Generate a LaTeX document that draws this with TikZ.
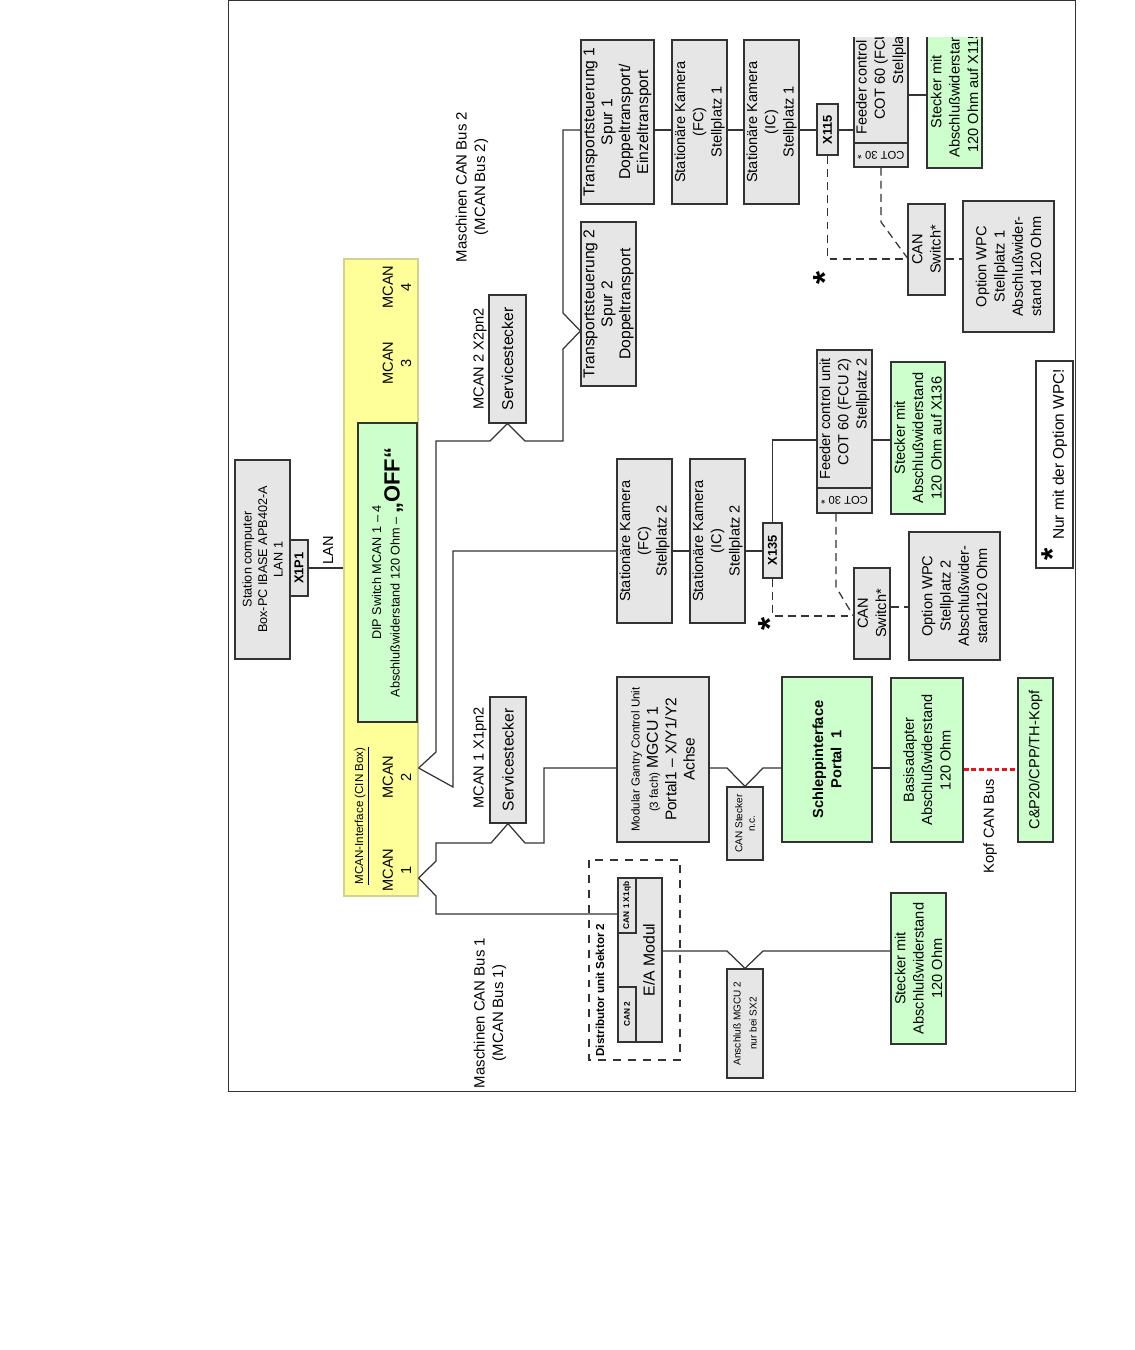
\documentclass[tikz,border=0pt]{standalone}
\usepackage{fontspec}
\setmainfont{Liberation Sans}
\usepackage{tikz}
\definecolor{cBox}{HTML}{E6E6E6}
\definecolor{cGreen}{HTML}{CCFFCC}
\definecolor{cYellow}{HTML}{FFFF99}
\definecolor{cYelEdge}{HTML}{D2D28C}
\definecolor{cInk}{HTML}{333333}
\definecolor{cRed}{HTML}{E8141B}
\newcommand\fnMain{\fontsize{8.3}{10.4}\selectfont}
\newcommand\fnBig{\fontsize{8.9}{10.2}\selectfont}
\newcommand\fnPc{\fontsize{7.2}{8.8}\selectfont}
\newcommand\fnDip{\fontsize{7.2}{9}\selectfont}
\newcommand\fnSmall{\fontsize{6.6}{8.2}\selectfont}
\newcommand\fnTiny{\fontsize{5.7}{7.2}\selectfont}
\tikzset{
  dim/.style 2 args={minimum height=#1*0.2mm, minimum width=#2*0.2mm},
  unit/.style={rectangle, draw=cInk, line width=0.7pt, fill=cBox, rotate=90,
    align=center, font=\fnMain, inner sep=1pt},
  okbox/.style={unit, fill=cGreen},
  port/.style={unit, font=\fontsize{7.3}{8}\selectfont\bfseries, inner sep=0.5pt},
  plug/.style={unit, font=\fontsize{4.7}{5}\selectfont\bfseries, inner sep=0.5pt},
  cot/.style={rectangle, draw=cInk, line width=0.7pt, fill=cBox, rotate=180,
    font=\fontsize{6.4}{7}\selectfont, inner sep=0.5pt},
  tag/.style={rotate=90, align=center, font=\fnMain, inner sep=1pt},
  asterisk/.style={rotate=90, font=\fontsize{19}{19}\selectfont\bfseries, inner sep=0pt},
  wire/.style={draw=cInk, line width=0.7pt},
  optwire/.style={wire, dash pattern=on 4.5pt off 3pt},
  headbus/.style={draw=cRed, line width=1.7pt, dash pattern=on 2.8pt off 1.6pt},
}

\begin{document}
\begin{tikzpicture}[x=0.2mm, y=-0.2mm]
\useasboundingbox (0,0) rectangle (1134,1350);
\draw[line width=0.6pt, draw=cInk] (228.5,0.5) rectangle (1075.5,1091.5);

% station computer and CIN box
\node[unit, dim={55}{199}, font=\fnPc] (pc) at (262.5,559.5) {Station computer\\ Box-PC IBASE APB402-A\\ LAN 1};
\node[port, dim={18}{56}] (x1p1) at (299,568) {X1P1};
\node[unit, dim={74}{637}, fill=cYellow, draw=cYelEdge] (cin) at (381,577.5) {};
\node[okbox, dim={59}{299}, font=\fnDip] (dip) at (387.5,572.5) {DIP Switch MCAN 1 – 4\\[1.5pt] Abschlußwiderstand 120 Ohm – {\fontsize{12.5}{13}\selectfont\bfseries „OFF“}};
\node[tag, font=\fnSmall] (cinlbl) at (362,816) {\underline{MCAN-Interface (CIN Box)}};
\node[tag] (mc1) at (397,870) {MCAN\\ 1};
\node[tag] (mc2) at (397,777) {MCAN\\ 2};
\node[tag] (mc3) at (397,363) {MCAN\\ 3};
\node[tag] (mc4) at (397,287) {MCAN\\ 4};
\node[tag] (lan) at (328,550) {LAN};
\draw[wire] (x1p1.south) -- (x1p1.south -| cin.north);

% service plugs and bus labels
\node[unit, dim={36}{126}, font=\fnBig] (ss1) at (508,760) {Servicestecker};
\node[tag] (ss1lbl) at (480,758) {MCAN 1 X1pn2};
\node[unit, dim={37}{128}, font=\fnBig] (ss2) at (507.5,359) {Servicestecker};
\node[tag] (ss2lbl) at (480,359) {MCAN 2 X2pn2};
\node[tag, font=\fontsize{8.5}{10.4}\selectfont] (bus2) at (472,187) {Maschinen CAN Bus 2\\ (MCAN Bus 2)};
\node[tag, font=\fontsize{8.5}{10.4}\selectfont] (bus1) at (490,1013) {Maschinen CAN Bus 1\\ (MCAN Bus 1)};

% Stellplatz 1
\node[unit, dim={73}{164}, font=\fnBig] (ts1) at (617.5,122) {Transportsteuerung 1\\ Spur 1\\ Doppeltransport/\\ Einzeltransport};
\node[unit, dim={55}{164}, font=\fnBig] (ts2) at (608.5,304) {Transportsteuerung 2\\ Spur 2\\ Doppeltransport};
\node[unit, dim={55}{164}] (kfc1) at (699.5,122) {Stationäre Kamera\\ (FC)\\ Stellplatz 1};
\node[unit, dim={55}{164}] (kic1) at (771.5,122) {Stationäre Kamera\\ (IC)\\ Stellplatz 1};
\node[port, dim={21}{51}] (x115) at (827.5,129.5) {X115};
\begin{scope}
  \clip (228,38) rectangle (1076,1092);
  \node[unit, dim={54}{139}, align=right] (fcu1) at (881,73.5) {Feeder control unit\\ COT 60 (FCU 1)\\ Stellplatz 1};
  \node[okbox, dim={55}{152}] (stk1) at (954.5,92) {Stecker mit\\ Abschlußwiderstand\\ 120 Ohm auf X115};
\end{scope}
\node[cot, minimum width=54*0.2mm, minimum height=24*0.2mm] (cot1) at (881,155) {COT 30 *};
\node[unit, dim={37}{91}] (canA) at (926.5,249.5) {CAN\\ Switch*};
\node[unit, dim={91}{131}] (wpc1) at (1008.5,266.5) {Option WPC\\ Stellplatz 1\\ Abschlußwider-\\ stand 120 Ohm};
\node[asterisk] (st1) at (825,278) {*};

% Stellplatz 2
\node[unit, dim={55}{164}] (kfc2) at (644.5,541) {Stationäre Kamera\\ (FC)\\ Stellplatz 2};
\node[unit, dim={55}{164}] (kic2) at (717.5,541) {Stationäre Kamera\\ (IC)\\ Stellplatz 2};
\node[port, dim={19}{55}] (x135) at (772.5,550.5) {X135};
\node[unit, dim={55}{138}, align=right] (fcu2) at (844.5,419) {Feeder control unit\\ COT 60 (FCU 2)\\ Stellplatz 2};
\node[cot, minimum width=55*0.2mm, minimum height=25*0.2mm] (cot2) at (844.5,500.5) {COT 30 *};
\node[okbox, dim={54}{152}] (stk2) at (918,438) {Stecker mit\\ Abschlußwiderstand\\ 120 Ohm auf X136};
\node[unit, dim={36}{91}] (canB) at (872,613.5) {CAN\\ Switch*};
\node[unit, dim={91}{128}] (wpc2) at (954.5,596) {Option WPC\\ Stellplatz 2\\ Abschlußwider-\\ stand120 Ohm};
\node[asterisk] (st2) at (770,624) {*};
\node[unit, dim={37}{207}, fill=white, font=\fontsize{8.8}{10}\selectfont] (note) at (1054.5,464.5) {{\fontsize{18}{18}\selectfont\bfseries *}\enspace Nur mit der Option WPC!};

% gantry and head
\node[unit, dim={92}{165}] (mgcu) at (663,759.5) {{\fnSmall Modular Gantry Control Unit}\\ {\fnSmall (3 fach)} {\fontsize{9}{10}\selectfont MGCU 1}\\ {\fontsize{8.8}{10}\selectfont Portal1 – X/Y1/Y2}\\ {\fontsize{8.8}{10}\selectfont Achse}};
\node[unit, dim={36}{73}, font=\fnTiny] (cst) at (745,823.5) {CAN Stecker\\ n.c.};
\node[okbox, dim={90}{165}, font=\fnMain\bfseries] (schl) at (827,759.5) {Schleppinterface\\ Portal\ \ 1};
\node[okbox, dim={72}{164}] (basis) at (927,760) {Basisadapter\\ Abschlußwiderstand\\ 120 Ohm};
\node[okbox, dim={35}{164}] (kopf) at (1035.5,760) {C\&P20/CPP/TH-Kopf};
\node[tag] (kopflbl) at (990,826) {Kopf CAN Bus};

% distributor
\node[unit, dim={44}{164}] (ea) at (640,960) {};
\node[tag, font=\fontsize{9}{10}\selectfont] (eatxt) at (649,960) {E/A Modul};
\node[plug, dim={18}{55}] (can1) at (627,905.5) {CAN 1 X1qb};
\node[plug, dim={18}{55}] (can2) at (627,1014.5) {CAN 2};
\node[rectangle, draw=cInk, line width=0.7pt, dash pattern=on 4.5pt off 4pt, rotate=90, dim={91}{200}] (dist) at (634.5,960) {};
\node[tag, font=\fnSmall\bfseries] (distlbl) at (600,990) {Distributor unit Sektor 2};
\node[unit, dim={36}{109}, font=\fnTiny] (mgcu2) at (745,1023.5) {Anschluß MGCU 2\\[2pt] nur bei SX2};
\node[okbox, dim={55}{151}] (stk3) at (918.5,968.5) {Stecker mit\\ Abschlußwiderstand\\ 120 Ohm};

% bus wiring
\coordinate (m1) at (cin.south |- 0,878);
\coordinate (m2) at (cin.south |- 0,768);
\draw[wire] (m1) -- (436,861) -- (436,843) -- (491,843) -- (ss1.west) -- (525,843) -- (544,843) |- (mgcu.north |- 0,768);
\draw[wire] (m1) -- (436,896) -- (436,914) -- (can1.north |- 0,914);
\draw[wire] (m2) -- (436,752) -- (436,441) -- (490,441) -- (ss2.west) -- (525,441) -- (563,441) -- (563,349) -- (ts2.north |- 0,331) -- (563,313) |- (ts1.north |- 0,130);
\draw[wire] (m2) -- (453,787) |- (kfc2.north |- 0,551);
\foreach \a/\b in {ts1/kfc1,kfc1/kic1,kic1/x115,x115/fcu1}
  \draw[wire] (\a.south |- 0,130) -- (\b.north |- 0,130);
\draw[wire] (fcu1.south |- 0,95) -- (stk1.north |- 0,95);
\draw[optwire] (x115.west) |- (canA.north |- 0,259);
\draw[optwire] (cot1.north) -- (881,222) -- (canA.north |- 0,258);
\draw[optwire] (canA.south |- 0,259) -- (wpc1.north |- 0,259);
\foreach \a/\b in {kfc2/kic2,kic2/x135}
  \draw[wire] (\a.south |- 0,551) -- (\b.north |- 0,551);
\draw[wire] (x135.east) |- (fcu2.north |- 0,440);
\draw[wire] (fcu2.south |- 0,440) -- (stk2.north |- 0,440);
\draw[optwire] (x135.west) |- (canB.north |- 0,616);
\draw[optwire] (cot2.north -| 836,0) -- (836,587) -- (canB.north |- 0,616);
\draw[optwire] (canB.south |- 0,607) -- (wpc2.north |- 0,607);
\draw[wire] (mgcu.south |- 0,768) -- (727,768) -- (cst.east) -- (763,768) -- (schl.north |- 0,768);
\draw[wire] (schl.south |- 0,768) -- (basis.north |- 0,768);
\draw[headbus] (basis.south |- 0,769) -- (kopf.north |- 0,769);
\draw[wire] (ea.south |- 0,951) -- (727,951) -- (mgcu2.east) -- (763,951) -- (stk3.north |- 0,951);
\end{tikzpicture}
\end{document}
